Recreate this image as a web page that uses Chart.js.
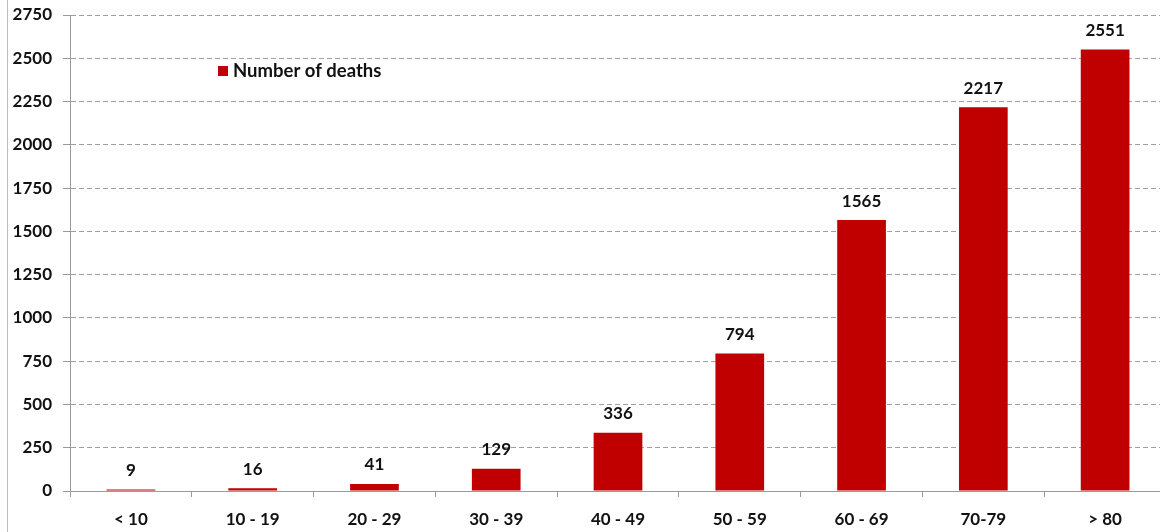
<!DOCTYPE html>
<html>
<head>
<meta charset="utf-8">
<script src="https://cdn.jsdelivr.net/npm/chart.js@4/dist/chart.umd.min.js"></script>
<style>
  html, body { margin: 0; padding: 0; background: #fff; }
  #frame { position: relative; width: 1160px; height: 532px; overflow: hidden; }
  #edge { position: absolute; left: 7px; top: 0; width: 0; height: 532px; border-left: 1px solid #bdbdbd; }
  #wrap { position: absolute; left: 0; top: 0; width: 1166px; height: 532px; }
</style>
</head>
<body>
<div id="frame">
  <div id="wrap"><canvas id="deathsChart"></canvas></div>
  <div id="edge"></div>
</div>
<script>
const ageGroups = ['< 10', '10 - 19', '20 - 29', '30 - 39', '40 - 49', '50 - 59', '60 - 69', '70-79', '> 80'];
const deaths = [9, 16, 41, 129, 336, 794, 1565, 2217, 2551];
const yTicks = [0, 250, 500, 750, 1000, 1250, 1500, 1750, 2000, 2250, 2500, 2750];

const FONT = 'Lato, "Liberation Sans", sans-serif';
const RED = '#c00000';

// value labels above each bar + the legend box in the upper left
const labelsPlugin = {
  id: 'barLabels',
  afterDatasetsDraw(chart) {
    const ctx = chart.ctx;
    const meta = chart.getDatasetMeta(0);
    ctx.save();
    ctx.font = 'bold 17px ' + FONT;
    ctx.fillStyle = '#111';
    ctx.textAlign = 'center';
    ctx.textBaseline = 'middle';
    meta.data.forEach((bar, i) => {
      ctx.fillText(String(deaths[i]), bar.x, bar.y - 19);
    });

    ctx.fillStyle = RED;
    ctx.fillRect(218, 66, 10, 10);
    ctx.fillStyle = '#111';
    ctx.textAlign = 'left';
    ctx.font = 'bold 18.5px ' + FONT;
    ctx.fillText(chart.data.datasets[0].label, 233, 71);
    ctx.restore();
  }
};

new Chart(document.getElementById('deathsChart'), {
  type: 'bar',
  data: {
    labels: ageGroups,
    datasets: [{
      label: 'Number of deaths',
      data: deaths,
      backgroundColor: RED,
      borderWidth: 0,
      barPercentage: 0.4,
      categoryPercentage: 1
    }]
  },
  options: {
    responsive: true,
    maintainAspectRatio: false,
    animation: false,
    layout: { padding: { top: 15, left: 0, right: 0, bottom: 0 } },
    plugins: { legend: { display: false }, tooltip: { enabled: false } },
    scales: {
      x: {
        afterFit: s => { s.height = 41; s.paddingLeft = 0; s.paddingRight = 0; },
        grid: { drawOnChartArea: false, drawTicks: true, tickLength: 6, tickColor: '#9a9a9a', offset: true },
        border: { color: '#9a9a9a', width: 1 },
        ticks: { color: '#111', font: { family: FONT, size: 17, weight: 'bold' }, padding: 12, maxRotation: 0 }
      },
      y: {
        min: 0,
        max: 2750,
        afterFit: s => { s.width = 70; s.paddingTop = 0; s.paddingBottom = 0; },
        afterBuildTicks: s => { s.ticks = yTicks.map(v => ({ value: v })); },
        grid: { color: '#a0a0a0', lineWidth: 1, tickLength: 7, tickColor: '#9a9a9a', tickBorderDash: [] },
        border: { color: '#9a9a9a', width: 1, dash: [5, 3] },
        ticks: {
          color: '#111',
          font: { family: FONT, size: 17, weight: 'bold' },
          padding: 11,
          callback: v => String(v)
        }
      }
    }
  },
  plugins: [labelsPlugin]
});
</script>
</body>
</html>
